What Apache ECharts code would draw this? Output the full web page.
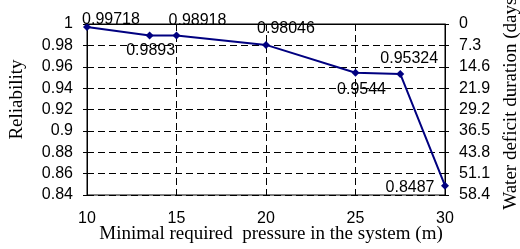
<!DOCTYPE html>
<html>
<head>
<meta charset="utf-8">
<script src="https://cdn.jsdelivr.net/npm/echarts@6/dist/echarts.min.js"></script>
<style>
html, body { margin: 0; padding: 0; background: #fff; }
#chart { width: 520px; height: 249px; }
</style>
</head>
<body>
<div id="chart"></div>
<script>
// 数据
var pressure = [10, 13.5, 15, 20, 25, 27.5, 30];
var reliability = [0.99718, 0.9893, 0.98918, 0.98046, 0.9544, 0.95324, 0.8487];
var deficitTicks = ['0', '7.3', '14.6', '21.9', '29.2', '36.5', '43.8', '51.1', '58.4'];
// label offsets from the point (px)
var labelOffsets = [[24, -7], [1, 15], [21, -15], [20, -16], [6, 17], [9, -15], [-35, 2]];

var myChart = echarts.init(document.getElementById('chart'));

var seriesData = [];
for (var i = 0; i < pressure.length; i++) {
    seriesData.push({
        value: [pressure[i], reliability[i]],
        label: { offset: labelOffsets[i] }
    });
}

var dash = { color: '#000', width: 1, type: [7, 4] };
var sans = 'Liberation Sans';
var serif = 'Liberation Serif';

var option = {
    animation: false,
    grid: {
        left: 87, right: 75, top: 24, bottom: 54,
        outerBoundsMode: 'none',
        show: true, borderColor: '#000', borderWidth: 1
    },
    xAxis: {
        type: 'value', min: 10, max: 30, interval: 5,
        name: 'Minimal required  pressure in the system (m)',
        nameLocation: 'middle', nameGap: 30, nameMoveOverlap: false,
        nameTextStyle: { fontFamily: serif, fontSize: 19, color: '#000', padding: [0, 0, 0, 10] },
        axisLine: { lineStyle: { color: '#000', width: 1 } },
        axisTick: { show: true, length: 3, lineStyle: { color: '#000' } },
        axisLabel: { fontFamily: sans, fontSize: 16, color: '#000', margin: 16 },
        splitLine: { show: true, lineStyle: dash }
    },
    yAxis: [{
        type: 'value', min: 0.84, max: 1, interval: 0.02,
        name: 'Reliability',
        nameLocation: 'middle', nameGap: 60, nameRotate: 90, nameMoveOverlap: false,
        nameTextStyle: { fontFamily: serif, fontSize: 19, color: '#000', padding: [0, 0, 0, 20] },
        axisLine: { show: true, lineStyle: { color: '#000', width: 1 } },
        axisTick: { show: true, length: 4, lineStyle: { color: '#000' } },
        axisLabel: {
            fontFamily: sans, fontSize: 16, color: '#000', margin: 14,
            formatter: function (v) { return String(Number(v.toFixed(2))); }
        },
        splitLine: { show: true, lineStyle: dash }
    }, {
        type: 'value', min: 0, max: 58.4, interval: 7.3, inverse: true,
        position: 'right',
        name: 'Water deficit duration (days)',
        nameLocation: 'middle', nameGap: 57, nameRotate: 90, nameMoveOverlap: false,
        nameTextStyle: { fontFamily: serif, fontSize: 19, color: '#000', padding: [0, 0, 0, 18] },
        axisLine: { show: true, lineStyle: { color: '#000', width: 1 } },
        axisTick: { show: true, length: 4, lineStyle: { color: '#000' } },
        axisLabel: {
            fontFamily: sans, fontSize: 16, color: '#000', margin: 14,
            formatter: function (v) {
                var idx = Math.round(v / 7.3);
                return deficitTicks[idx] !== undefined ? deficitTicks[idx] : '';
            }
        },
        splitLine: { show: false }
    }],
    series: [{
        type: 'line',
        yAxisIndex: 0,
        data: seriesData,
        symbol: 'diamond',
        symbolSize: 8,
        lineStyle: { color: '#000080', width: 2 },
        itemStyle: { color: '#000080' },
        label: {
            show: true, position: 'inside',
            fontFamily: sans, fontSize: 16, color: '#000',
            formatter: function (p) { return String(p.value[1]); }
        }
    }]
};

myChart.setOption(option);
</script>
</body>
</html>
